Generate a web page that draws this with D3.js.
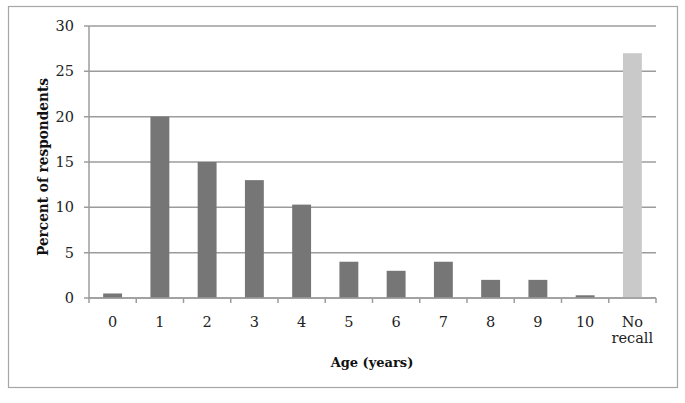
<!DOCTYPE html>
<html>
<head>
<meta charset="utf-8">
<script src="https://cdn.jsdelivr.net/npm/d3@7"></script>
<style>
  body { margin: 0; background: #fff; }
  svg text { font-family: "DejaVu Serif", "Liberation Serif", serif; }
</style>
</head>
<body>
<svg width="685" height="403"></svg>
<script>
// chart data
var categories = ["0", "1", "2", "3", "4", "5", "6", "7", "8", "9", "10", "No recall"];
var percents = [0.5, 20, 15, 13, 10.3, 4, 3, 4, 2, 2, 0.3, 27];
var yTicks = [0, 5, 10, 15, 20, 25, 30];

var svg = d3.select("svg");

// outer frame
svg.append("rect")
  .attr("x", 8.5).attr("y", 6.5)
  .attr("width", 669).attr("height", 381)
  .style("fill", "none").style("stroke", "#a6a6a6").style("stroke-width", 1.2);

var plotLeft = 89, plotRight = 656, plotTop = 26, plotBottom = 298;

var x = d3.scaleBand().domain(categories).range([plotLeft, plotRight]).paddingInner(0.6).paddingOuter(0.3);
var y = d3.scaleLinear().domain([0, 30]).range([plotBottom, plotTop]);

// gridlines
svg.selectAll("line.grid")
  .data(yTicks)
  .enter()
  .append("line")
  .attr("class", "grid")
  .attr("x1", plotLeft - 5).attr("x2", plotRight)
  .attr("y1", d => y(d)).attr("y2", d => y(d))
  .style("stroke", "#9c9c9c").style("stroke-width", 1.5);

// bars
svg.selectAll("rect.bar")
  .data(percents)
  .enter()
  .append("rect")
  .attr("class", "bar")
  .attr("x", (d, i) => x(categories[i]))
  .attr("width", x.bandwidth())
  .attr("y", d => y(d))
  .attr("height", d => y(0) - y(d))
  .style("fill", (d, i) => categories[i] == "No recall" ? "#c9c9c9" : "#767676");

// y axis line
svg.append("line")
  .attr("x1", plotLeft).attr("x2", plotLeft)
  .attr("y1", plotTop).attr("y2", plotBottom)
  .style("stroke", "#9c9c9c").style("stroke-width", 1.5);

// x axis line + ticks between categories
svg.append("line")
  .attr("x1", plotLeft).attr("x2", plotRight)
  .attr("y1", plotBottom).attr("y2", plotBottom)
  .style("stroke", "#9c9c9c").style("stroke-width", 1.5);

var bounds = d3.range(categories.length + 1).map(i => plotLeft + i * (plotRight - plotLeft) / categories.length);
svg.selectAll("line.xtick")
  .data(bounds)
  .enter()
  .append("line")
  .attr("class", "xtick")
  .attr("x1", d => d).attr("x2", d => d)
  .attr("y1", plotBottom).attr("y2", plotBottom + 5)
  .style("stroke", "#9c9c9c").style("stroke-width", 1.5);

// y tick labels
svg.selectAll("text.ylab")
  .data(yTicks)
  .enter()
  .append("text")
  .attr("class", "ylab")
  .attr("x", 74)
  .attr("y", d => y(d) + 5)
  .attr("text-anchor", "end")
  .style("font-size", "14.5px")
  .style("fill", "#222")
  .text(d => d);

// x tick labels
var xl = svg.selectAll("text.xlab")
  .data(categories)
  .enter()
  .append("text")
  .attr("class", "xlab")
  .attr("text-anchor", "middle")
  .attr("y", 327)
  .style("font-size", "14.5px")
  .style("fill", "#222");
xl.each(function(d) {
  var t = d3.select(this);
  var cx = x(d) + x.bandwidth() / 2;
  var parts = d.split(" ");
  parts.forEach(function(p, j) {
    t.append("tspan").attr("x", cx).attr("dy", j == 0 ? 0 : 16).text(p);
  });
});

// axis titles
svg.append("text")
  .attr("x", 372).attr("y", 367)
  .attr("text-anchor", "middle")
  .style("font-size", "13px").style("font-weight", "bold").style("fill", "#111")
  .text("Age (years)");

svg.append("text")
  .attr("transform", "translate(48,167) rotate(-90)")
  .attr("text-anchor", "middle")
  .style("font-size", "15px").style("font-weight", "bold").style("fill", "#111")
  .attr("textLength", 178)
  .attr("lengthAdjust", "spacingAndGlyphs")
  .text("Percent of respondents");
</script>
</body>
</html>
